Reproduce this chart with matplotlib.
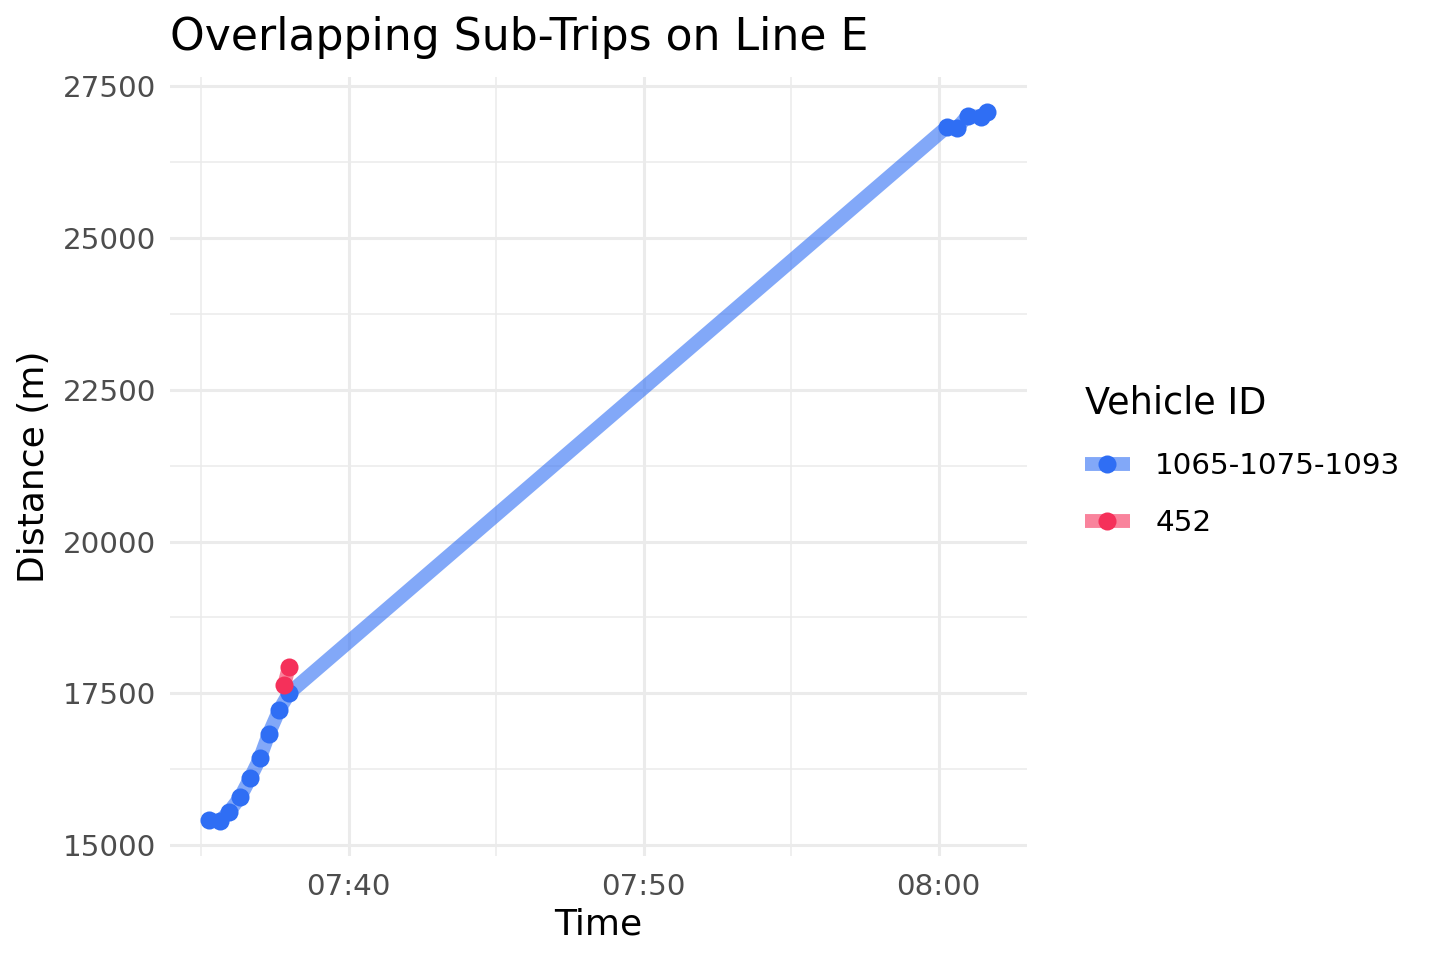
import datetime as dt
import matplotlib
matplotlib.use("Agg")
import matplotlib.pyplot as plt
import matplotlib.dates as mdates
from matplotlib.lines import Line2D

plt.rcParams['font.family'] = 'DejaVu Sans'

# vehicle 1065-1075-1093
blue_times = ["07:35:16", "07:35:38", "07:35:56", "07:36:19", "07:36:39",
              "07:36:59", "07:37:17", "07:37:38", "07:37:58",
              "08:00:16", "08:00:38", "08:00:59", "08:01:25", "08:01:39"]
blue_dist = [15410, 15400, 15545, 15790, 16100, 16430, 16830, 17220, 17500,
             26825, 26820, 27015, 26995, 27070]

# vehicle 452
red_times = ["07:37:48", "07:37:58"]
red_dist = [17630, 17930]

vehicles = ["1065-1075-1093", "452"]
colors = ["#2F6EF4", "#F5305A"]


def to_dt(ts):
    return [dt.datetime.strptime("2024-01-01 " + t, "%Y-%m-%d %H:%M:%S") for t in ts]


fig = plt.figure(figsize=(7.2, 4.8), dpi=200)
ax = fig.add_axes([0.118, 0.108, 0.595, 0.812])

series = [(to_dt(blue_times), blue_dist), (to_dt(red_times), red_dist)]
for (x, y), c in zip(series, colors):
    ax.plot(x, y, color=c, lw=5, alpha=0.6, solid_capstyle='butt', zorder=2)
    ax.plot(x, y, 'o', color=c, ms=6.5, mec='none', zorder=3)

ax.set_xlim(dt.datetime(2024, 1, 1, 7, 33, 56), dt.datetime(2024, 1, 1, 8, 2, 59))
ax.set_ylim(14816, 27656)

ax.xaxis.set_major_locator(mdates.MinuteLocator(byminute=[0, 10, 20, 30, 40, 50]))
ax.xaxis.set_minor_locator(mdates.MinuteLocator(byminute=[5, 15, 25, 35, 45, 55]))
ax.xaxis.set_major_formatter(mdates.DateFormatter("%H:%M"))
ax.set_yticks(range(15000, 27501, 2500))
ax.set_yticks(range(16250, 27500, 2500), minor=True)

ax.grid(which='major', color='#EBEBEB', lw=1.1)
ax.grid(which='minor', color='#EBEBEB', lw=0.55)
ax.set_axisbelow(True)
for s in ax.spines.values():
    s.set_visible(False)
ax.tick_params(which='both', length=0, labelsize=10.6, labelcolor='#4D4D4D')
ax.tick_params(axis='x', pad=6)
ax.tick_params(axis='y', pad=5)

ax.set_xlabel("Time", fontsize=13, labelpad=2.5)
ax.set_ylabel("Distance (m)", fontsize=13, labelpad=4)
ax.set_title("Overlapping Sub-Trips on Line E", fontsize=15.9, loc='left', x=0.0, pad=9.5)

handles = [(Line2D([0], [0], color=c, lw=5, alpha=0.6, solid_capstyle='butt'),
            Line2D([0], [0], ls='none', marker='o', ms=6.5, mfc=c, mec='none'))
           for c in colors]
leg = fig.legend(handles, vehicles, title="Vehicle ID", loc='center left',
                 bbox_to_anchor=(0.745, 0.52), frameon=False, fontsize=10.6,
                 title_fontsize=13.2, handlelength=1.55, labelspacing=1.0,
                 handletextpad=0.85, borderaxespad=0)
leg._legend_box.align = "left"
leg._legend_box.sep = 11

fig.savefig("out.png", dpi=200)
